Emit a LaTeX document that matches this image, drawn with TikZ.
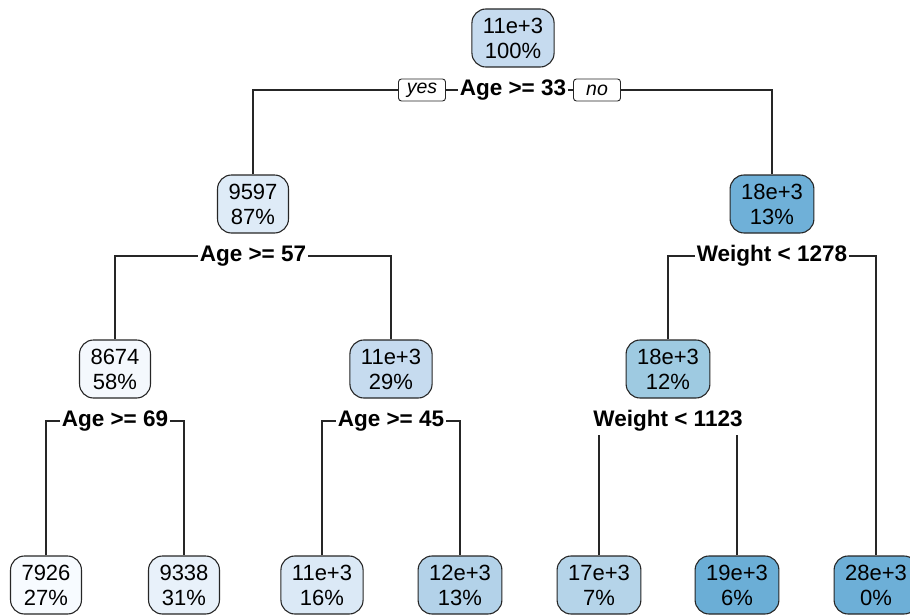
\documentclass[tikz,border=0pt]{standalone}
\usepackage{fontspec}
\setmainfont{Liberation Sans}
\usetikzlibrary{backgrounds}
\definecolor{cA}{HTML}{C6DBEF}
\definecolor{cB}{HTML}{DEEBF7}
\definecolor{cC}{HTML}{6FB0D8}
\definecolor{cD}{HTML}{F4F8FD}
\definecolor{cE}{HTML}{C6DBEF}
\definecolor{cF}{HTML}{9ECAE1}
\definecolor{cL1}{HTML}{F7FBFF}
\definecolor{cL2}{HTML}{E8F1FA}
\definecolor{cL3}{HTML}{DBE9F6}
\definecolor{cL4}{HTML}{B3D2E9}
\definecolor{cL5}{HTML}{B5D4E9}
\definecolor{cL6}{HTML}{6BAED6}
\definecolor{cL7}{HTML}{6DAFD7}
\definecolor{edge}{HTML}{262626}
\tikzset{
  treebox/.style={draw=edge, line width=1.1pt, rounded corners=14pt, align=center,
    minimum height=58pt, inner xsep=11pt, inner ysep=4pt,
    font=\fontsize{22}{25}\selectfont},
  splitlab/.style={fill=white, inner xsep=2pt, inner ysep=3pt,
    font=\fontsize{22.5}{25}\selectfont\bfseries},
  yesno/.style={draw=edge, fill=white, line width=0.9pt, rounded corners=3pt,
    minimum width=47pt, minimum height=22pt, inner sep=1pt,
    font=\fontsize{19.5}{20}\selectfont\itshape},
  conn/.style={draw=edge, line width=1.2pt}
}
\begin{document}
\begin{tikzpicture}[x=1pt,y=-1pt]
\useasboundingbox (0,0) rectangle (910,615);
% nodes
\node[treebox, fill=cA] (n1) at (513,38) {11e+3\\100\%};
\node[treebox, fill=cB] (n2) at (253,204) {9597\\87\%};
\node[treebox, fill=cC] (n3) at (772,204) {18e+3\\13\%};
\node[treebox, fill=cD] (n4) at (115,369) {8674\\58\%};
\node[treebox, fill=cE] (n5) at (391,369) {11e+3\\29\%};
\node[treebox, fill=cF] (n6) at (668,369) {18e+3\\12\%};
\node[treebox, fill=cL1] (l1) at (46,585) {7926\\27\%};
\node[treebox, fill=cL2] (l2) at (184,585) {9338\\31\%};
\node[treebox, fill=cL3] (l3) at (322,585) {11e+3\\16\%};
\node[treebox, fill=cL4] (l4) at (460,585) {12e+3\\13\%};
\node[treebox, fill=cL5] (l5) at (599,585) {17e+3\\7\%};
\node[treebox, fill=cL6] (l6) at (737,585) {19e+3\\6\%};
\node[treebox, fill=cL7] (l7) at (876,585) {28e+3\\0\%};
% split labels
\node[splitlab] (s1) at (513,90) {Age >= 33};
\node[yesno] (yes) at (422,90) {yes};
\node[yesno] (no) at (597,90) {no};
\node[splitlab] (s2) at (253,256) {Age >= 57};
\node[splitlab] (s3) at (772,256) {Weight < 1278};
\node[splitlab] (s4) at (115,421) {Age >= 69};
\node[splitlab] (s5) at (391,421) {Age >= 45};
\node[splitlab] (s6) at (668,421) {Weight < 1123};
% connectors
\begin{pgfonlayer}{background}
\draw[conn] (n2.north) -- (n2.north |- s1) -- (n3.north |- s1) -- (n3.north);
\draw[conn] (n4.north) -- (n4.north |- s2) -- (n5.north |- s2) -- (n5.north);
\draw[conn] (n6.north) -- (n6.north |- s3) -- (l7.north |- s3) -- (l7.north);
\draw[conn] (l1.north) -- (l1.north |- s4) -- (l2.north |- s4) -- (l2.north);
\draw[conn] (l3.north) -- (l3.north |- s5) -- (l4.north |- s5) -- (l4.north);
\draw[conn] (l5.north) -- (l5.north |- s6) -- (l6.north |- s6) -- (l6.north);
\end{pgfonlayer}
\end{tikzpicture}
\end{document}
